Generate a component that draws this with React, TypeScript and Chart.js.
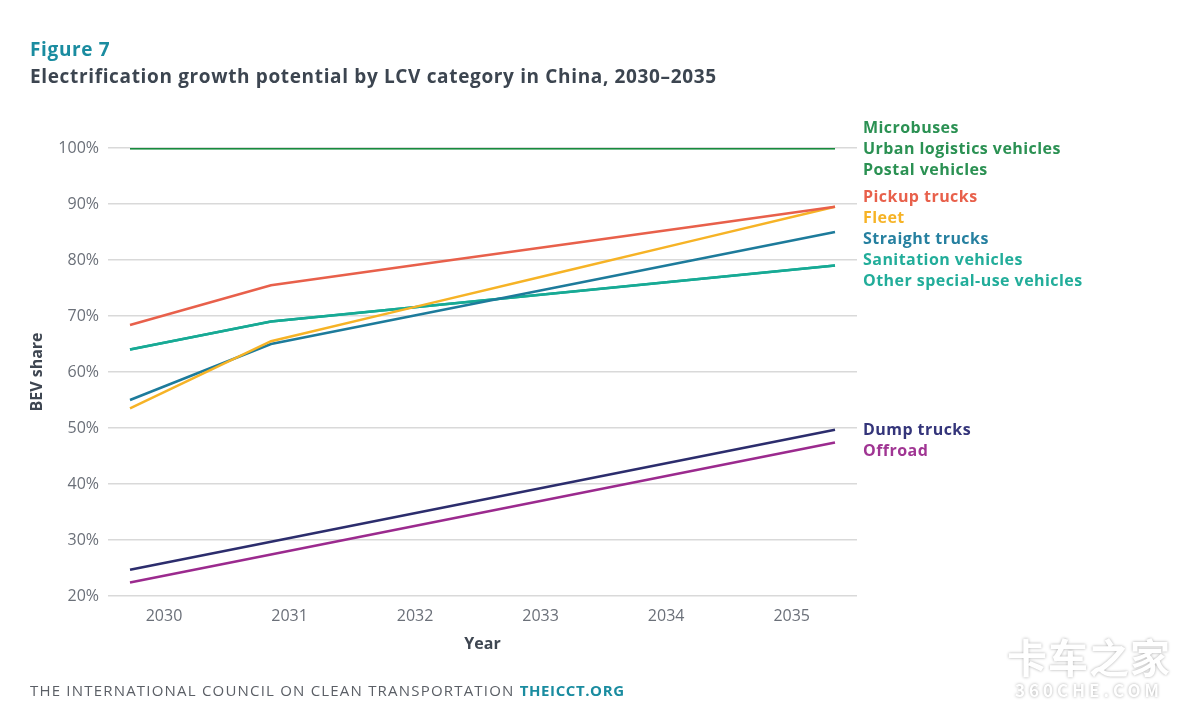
import React, { useEffect, useRef } from "react";
import { Chart, registerables } from "chart.js";

Chart.register(...registerables);

const years = [2030, 2031, 2032, 2033, 2034, 2035];
const seriesNames = [
  "Microbuses",
  "Urban logistics vehicles",
  "Postal vehicles",
  "Pickup trucks",
  "Fleet",
  "Straight trucks",
  "Sanitation vehicles",
  "Other special-use vehicles",
  "Dump trucks",
  "Offroad",
];
const microbuses = [100, 100, 100, 100, 100, 100];
const urbanLogistics = [100, 100, 100, 100, 100, 100];
const postal = [100, 100, 100, 100, 100, 100];
const pickup = [68.4, 75.5, 79, 82.5, 86, 89.5];
const fleet = [53.5, 65.5, 71.5, 77.5, 83.5, 89.5];
const straight = [55, 65, 70, 75, 80, 85];
const sanitation = [64, 69, 71.5, 74, 76.5, 79];
const otherSpecial = [64, 69, 71.5, 74, 76.5, 79];
const dump = [24.7, 29.7, 34.7, 39.7, 44.7, 49.7];
const offroad = [22.4, 27.4, 32.4, 37.4, 42.4, 47.4];
const yTicks = [20, 30, 40, 50, 60, 70, 80, 90, 100];

const seriesValues = [
  microbuses,
  urbanLogistics,
  postal,
  pickup,
  fleet,
  straight,
  sanitation,
  otherSpecial,
  dump,
  offroad,
];
const lineColors = [
  "#178a3d",
  "#178a3d",
  "#178a3d",
  "#e8604b",
  "#f6b326",
  "#1d7b9b",
  "#17aa95",
  "#17aa95",
  "#2c2d6d",
  "#9b2a8e",
];
const labelColors = [
  "#2b9153",
  "#2b9153",
  "#2b9153",
  "#e8604b",
  "#f6b326",
  "#2680a0",
  "#22ad9a",
  "#22ad9a",
  "#34357a",
  "#a03593",
];

const FONT = '"Open Sans", "DejaVu Sans", sans-serif';

const endLabels = {
  id: "endLabels",
  afterDatasetsDraw(chart: any) {
    const ctx = chart.ctx;
    const S = 21;
    const items = chart.data.datasets.map((ds: any, i: number) => {
      const meta = chart.getDatasetMeta(i);
      const pt = meta.data[meta.data.length - 1];
      return { text: ds.label, color: labelColors[i], y: pt.y, i };
    });
    items.sort((a: any, b: any) => a.y - b.y || a.i - b.i);
    // group labels whose lines end at the same value, centre each group on it
    const groups: any[] = [];
    items.forEach((it: any) => {
      const g = groups[groups.length - 1];
      if (g && Math.abs(g.y - it.y) < 0.5) g.items.push(it);
      else groups.push({ y: it.y, items: [it] });
    });
    // push groups down so labels never overlap
    let prev = -Infinity;
    const placed: any[] = [];
    groups.forEach((g: any) => {
      const n = g.items.length;
      let top = g.y - ((n - 1) * S) / 2;
      if (top < prev + S) top = prev + S;
      g.items.forEach((it: any, j: number) => placed.push({ ...it, py: top + j * S }));
      prev = top + (n - 1) * S;
    });
    ctx.save();
    ctx.font = `700 16px ${FONT}`;
    try {
      (ctx as any).letterSpacing = "0.45px";
    } catch (e) {}
    ctx.textAlign = "left";
    ctx.textBaseline = "middle";
    const x = chart.chartArea.right + 6;
    placed.forEach((it: any) => {
      ctx.fillStyle = it.color;
      ctx.fillText(it.text, x, it.py + 1);
    });
    ctx.restore();
  },
};

export default function App() {
  const ref = useRef<HTMLCanvasElement | null>(null);

  useEffect(() => {
    if (!ref.current) return;
    const chart = new Chart(ref.current, {
      type: "line",
      data: {
        datasets: seriesNames.map((name, i) => ({
          label: name,
          data: years.map((yr, j) => ({ x: yr, y: seriesValues[i][j] })),
          borderColor: lineColors[i],
          backgroundColor: lineColors[i],
          borderWidth: 2.5,
          pointRadius: 0,
          tension: 0,
          fill: false,
          xAxisID: "x",
          yAxisID: "y",
        })),
      },
      options: {
        responsive: false,
        animation: false,
        layout: { padding: { top: 148, right: 343, bottom: 73, left: 0 } },
        plugins: {
          legend: { display: false },
          tooltip: { enabled: false },
          title: { display: false },
        },
        scales: {
          x: {
            type: "linear",
            display: false,
            min: 2030 - 22 / 141,
            max: 2035 + 22 / 141,
          },
          x2: {
            type: "linear",
            position: "bottom",
            min: 2030 - 56 / 125.5,
            max: 2035 + 65.3 / 125.5,
            grid: { display: false },
            border: { display: false },
            afterBuildTicks: (axis: any) => {
              axis.ticks = years.map((v) => ({ value: v }));
            },
            afterFit: (axis: any) => {
              axis.height = 59;
            },
            ticks: {
              color: "#6b7079",
              font: { family: FONT, size: 16 },
              padding: 3,
              maxRotation: 0,
              callback: (v: any) => String(v),
            },
            title: {
              display: true,
              text: "Year",
              color: "#3e4651",
              font: { family: FONT, size: 16, weight: "bold" },
              padding: { top: 0, bottom: 1 },
            },
          },
          y: {
            type: "linear",
            min: 20,
            max: 100,
            afterBuildTicks: (axis: any) => {
              axis.ticks = yTicks.map((v) => ({ value: v }));
            },
            afterFit: (axis: any) => {
              axis.width = 108;
            },
            grid: { color: "#d9d9d9", lineWidth: 1.4, drawTicks: false },
            border: { display: false },
            ticks: {
              color: "#6b7079",
              font: { family: FONT, size: 16 },
              padding: 9,
              callback: (v: any) => `${v}%`,
            },
            title: {
              display: true,
              text: "BEV share",
              color: "#3e4651",
              font: { family: FONT, size: 16, weight: "bold" },
              padding: { top: 28, bottom: 0 },
            },
          },
        },
      },
      plugins: [endLabels],
    });
    return () => chart.destroy();
  }, []);

  return (
    <div
      style={{
        position: "absolute",
        left: 0,
        top: 0,
        width: 1200,
        height: 728,
        background: "#ffffff",
        fontFamily: FONT,
        overflow: "hidden",
      }}
    >
      <canvas ref={ref} width={1200} height={728} style={{ position: "absolute", left: 0, top: 0 }} />
      <div
        style={{
          position: "absolute",
          left: 30,
          top: 36,
          fontSize: 19,
          fontWeight: 700,
          color: "#1a8ca0",
          lineHeight: "26px",
          letterSpacing: "0.65px",
        }}
      >
        Figure 7
      </div>
      <div
        style={{
          position: "absolute",
          left: 30,
          top: 63,
          fontSize: 19,
          fontWeight: 700,
          color: "#3c4550",
          lineHeight: "26px",
          whiteSpace: "nowrap",
          letterSpacing: "0.65px",
        }}
      >
        Electrification growth potential by LCV category in China, 2030–2035
      </div>
      <div
        style={{
          position: "absolute",
          left: 30,
          top: 680,
          fontSize: 15,
          color: "#5b5f66",
          lineHeight: "20px",
          whiteSpace: "nowrap",
          letterSpacing: "1.2px",
        }}
      >
        THE INTERNATIONAL COUNCIL ON CLEAN TRANSPORTATION{" "}
        <span style={{ color: "#1a8ca0", fontWeight: 700, letterSpacing: "0.6px" }}>THEICCT.ORG</span>
      </div>
      <div
        style={{
          position: "absolute",
          left: 1004,
          top: 636,
          width: 170,
          textAlign: "center",
          color: "#ffffff",
          textShadow: "0 0 3px rgba(0,0,0,0.35)",
          fontFamily: '"Noto Sans CJK SC", sans-serif',
          fontWeight: 700,
          lineHeight: 1,
        }}
      >
        <div style={{ fontSize: 40, letterSpacing: 1 }}>卡车之家</div>
        <div style={{ fontSize: 17, letterSpacing: 4, marginTop: 5 }}>360CHE.COM</div>
      </div>
    </div>
  );
}
